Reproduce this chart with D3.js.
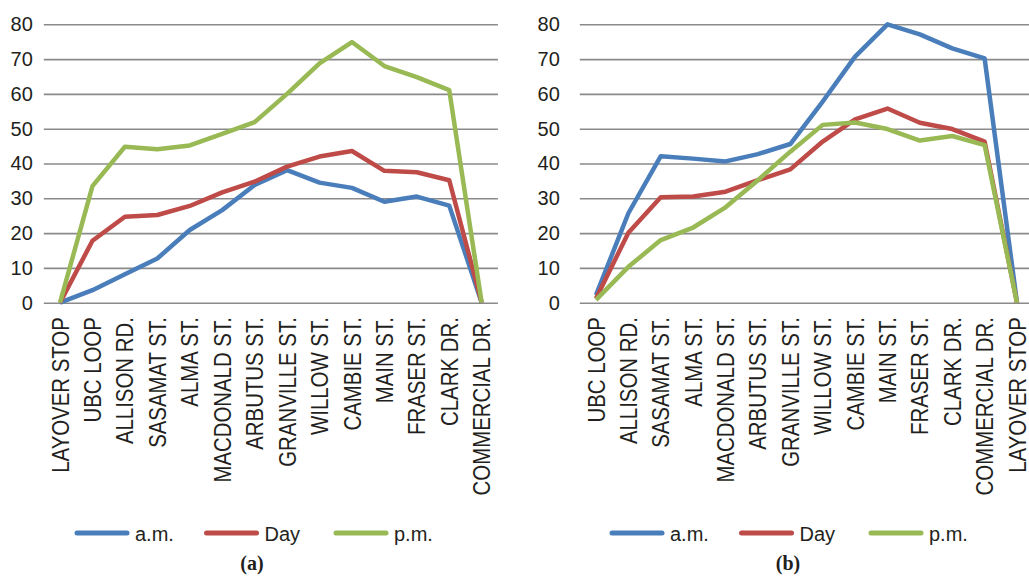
<!DOCTYPE html>
<html>
<head>
<meta charset="utf-8">
<script src="https://cdn.jsdelivr.net/npm/d3@7/dist/d3.min.js"></script>
<style>
  html, body { margin: 0; padding: 0; background: #fff; }
  svg { display: block; }
  text { font-family: "Liberation Sans", Arial, Helvetica, sans-serif; fill: #231f20; }
</style>
</head>
<body>
<svg id="chart" width="1029" height="577"></svg>
<script>
// ---------- DATA ----------
const categoriesA = ["LAYOVER STOP", "UBC LOOP", "ALLISON RD.", "SASAMAT ST.", "ALMA ST.", "MACDONALD ST.",
  "ARBUTUS ST.", "GRANVILLE ST.", "WILLOW ST.", "CAMBIE ST.", "MAIN ST.", "FRASER ST.", "CLARK DR.", "COMMERCIAL DR."];
const amA  = [0, 3.6, 8.2, 12.7, 20.9, 26.6, 33.8, 38.1, 34.5, 33.0, 29.0, 30.5, 27.9, 0];
const dayA = [0, 17.8, 24.7, 25.2, 27.8, 31.7, 34.8, 39.1, 42.0, 43.6, 37.9, 37.5, 35.2, 0];
const pmA  = [0, 33.5, 44.8, 44.1, 45.2, 48.5, 51.9, 60.0, 68.8, 74.9, 68.0, 64.8, 61.1, 0];

const categoriesB = ["UBC LOOP", "ALLISON RD.", "SASAMAT ST.", "ALMA ST.", "MACDONALD ST.", "ARBUTUS ST.",
  "GRANVILLE ST.", "WILLOW ST.", "CAMBIE ST.", "MAIN ST.", "FRASER ST.", "CLARK DR.", "COMMERCIAL DR.", "LAYOVER STOP"];
const amB  = [2.2, 25.7, 42.1, 41.4, 40.6, 42.7, 45.6, 57.8, 70.7, 80.0, 77.1, 73.1, 70.2, 0];
const dayB = [1.2, 20.1, 30.3, 30.5, 31.9, 35.2, 38.3, 46.3, 52.7, 55.8, 51.7, 49.9, 46.3, 0];
const pmB  = [0.8, 10.3, 18.0, 21.6, 27.4, 35.2, 43.4, 51.1, 51.8, 49.9, 46.6, 47.9, 45.3, 0];

const seriesNames = ["a.m.", "Day", "p.m."];
const yTicks = [0, 10, 20, 30, 40, 50, 60, 70, 80];
const captions = ["(a)", "(b)"];

// ---------- STYLE ----------
const colors = ["#4a7ebb", "#be4b48", "#98b954"];
const svg = d3.select("#chart");

const panels = [
  { cats: categoriesA, series: [amA, dayA, pmA], x0: 43.8, x1: 497.9, labelPad: 11,
    legendX: 77, caption: captions[0], captionX: 252 },
  { cats: categoriesB, series: [amB, dayB, pmB], x0: 579.8, x1: 1033.2, labelPad: 20,
    legendX: 612, caption: captions[1], captionX: 788 }
];

const yTop = 24.3, yBottom = 302.7;

panels.forEach(p => {
  const g = svg.append("g");
  const x = d3.scalePoint().domain(p.cats).range([p.x0, p.x1]).padding(0.5);
  const y = d3.scaleLinear().domain([0, 80]).range([yBottom, yTop]);

  // Y axis with gridlines
  const yAxis = d3.axisLeft(y).tickValues(yTicks)
    .tickSize(-(p.x1 - p.x0)).tickPadding(p.labelPad);
  const ya = g.append("g").attr("transform", `translate(${p.x0},0)`).call(yAxis);
  ya.select(".domain").remove();
  ya.selectAll(".tick line").attr("stroke", "#8a8a8a").attr("stroke-width", 1.6);
  ya.selectAll(".tick text").style("font-size", "20px").attr("fill", "#231f20");

  // X axis labels (rotated)
  const xAxis = d3.axisBottom(x).tickSize(0);
  const xa = g.append("g").attr("transform", `translate(0,${yBottom})`).call(xAxis);
  xa.select(".domain").remove();
  xa.selectAll(".tick text")
    .style("font-size", "20.4px")
    .attr("fill", "#231f20")
    .attr("transform", "rotate(-90) scale(1,1.13)")
    .attr("x", -14.5)
    .attr("y", 0)
    .attr("dy", "0.35em")
    .style("text-anchor", "end");

  // Lines
  const line = d3.line()
    .x((d, i) => x(p.cats[i]))
    .y(d => y(d));
  p.series.forEach((s, si) => {
    g.append("path")
      .datum(s)
      .attr("d", line)
      .attr("fill", "none")
      .attr("stroke", colors[si])
      .attr("stroke-width", 4.5)
      .attr("stroke-linejoin", "round");
  });

  // Legend
  const lg = g.append("g").attr("transform", `translate(${p.legendX},533)`);
  seriesNames.forEach((name, i) => {
    const item = lg.append("g").attr("transform", `translate(${i * 129.5},0)`);
    item.append("line")
      .attr("x1", 0).attr("x2", 50).attr("y1", 0).attr("y2", 0)
      .attr("stroke", colors[i]).attr("stroke-width", 5).attr("stroke-linecap", "round");
    item.append("text")
      .attr("x", 58).attr("y", 7.5)
      .style("font-size", "20px")
      .text(name);
  });

  // Caption
  g.append("text")
    .attr("x", p.captionX).attr("y", 570)
    .attr("text-anchor", "middle")
    .style("font-family", "'Liberation Serif', 'Times New Roman', serif")
    .style("font-weight", "bold")
    .style("font-size", "20px")
    .text(p.caption);
});
</script>
</body>
</html>
